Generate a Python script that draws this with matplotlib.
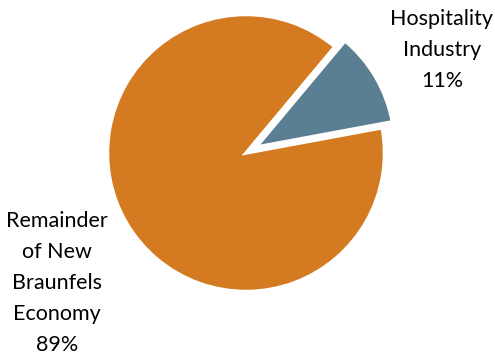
import matplotlib.pyplot as plt

labels = ['Hospitality\nIndustry\n11%', 'Remainder\nof New\nBraunfels\nEconomy\n89%']
values = [11, 89]
colors = ['#5B7F92', '#D47B22']
explode = [0.085, 0]

fig = plt.figure(figsize=(4.95, 3.58), dpi=100)
ax = fig.add_axes([0, 0, 1, 1])

R = 138.5
cx, cy = 246, 358 - 153
ax.pie(values, colors=colors, explode=explode, startangle=10.5, counterclock=True,
       radius=1, center=(0, 0), wedgeprops=dict(edgecolor='white', linewidth=2.5))
ax.set_xlim(-cx / R, (495 - cx) / R)
ax.set_ylim(-cy / R, (358 - cy) / R)
ax.set_aspect('auto')
ax.axis('off')

ax.text((442 - cx) / R, (308 - cy) / R, labels[0], ha='center', va='center',
        fontsize=15.5, family='Lato', linespacing=1.68)
ax.text((57 - cx) / R, (75 - cy) / R, labels[1], ha='center', va='center',
        fontsize=15.5, family='Lato', linespacing=1.68)

fig.savefig('out.png', dpi=100)
